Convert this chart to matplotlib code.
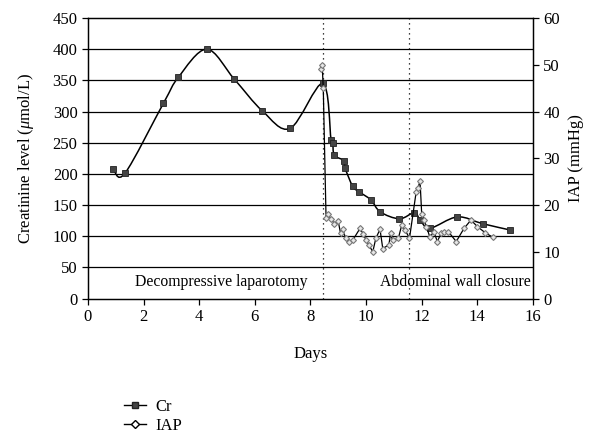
import numpy as np
import matplotlib.pyplot as plt
from matplotlib.path import Path
from matplotlib.patches import PathPatch
from matplotlib.lines import Line2D

plt.rcParams['font.family'] = ['Liberation Serif', 'DejaVu Serif']
plt.rcParams['mathtext.fontset'] = 'custom'
plt.rcParams['mathtext.rm'] = 'Liberation Serif'
plt.rcParams['mathtext.it'] = 'Liberation Serif:italic'

# Creatinine (umol/L) vs day
cr_days = [0.91, 1.33, 2.71, 3.25, 4.27, 5.26, 6.27, 7.27, 8.44, 8.74, 8.80, 8.86,
           9.22, 9.24, 9.52, 9.76, 10.18, 10.51, 11.20, 11.74, 11.94, 12.30,
           13.28, 14.20, 15.18]
cr_vals = [208, 201, 313, 355, 400, 352, 301, 273, 345, 255, 250, 230,
           221, 210, 180, 171, 158, 139, 128, 138, 126, 113,
           131, 120, 110]

# Intra-abdominal pressure (mmHg) vs day
iap_days = [8.38, 8.42, 8.46, 8.56, 8.64, 8.74, 8.86, 9.00, 9.08, 9.16, 9.26, 9.38,
            9.52, 9.78, 9.90, 10.00, 10.10, 10.24, 10.35, 10.50, 10.60, 10.82,
            10.88, 10.95, 11.16, 11.28, 11.40, 11.56, 11.80, 11.86, 11.94, 12.00,
            12.08, 12.17, 12.29, 12.44, 12.56, 12.70, 12.80, 12.96, 13.24, 13.52,
            13.77, 14.00, 14.28, 14.56]
iap_vals = [49, 50, 45, 17.2, 18, 17, 16, 16.5, 14, 14.8, 13, 12.2,
            12.5, 15, 13.8, 12.5, 11.5, 10, 12.9, 14.8, 10.7, 11.5,
            14, 12.5, 12.9, 15.7, 14.7, 12.9, 22.8, 23.6, 25.1, 18,
            16.8, 15.4, 13.2, 14.3, 12.2, 14, 14.3, 14.3, 12.2, 15,
            16.8, 15.4, 14.1, 13.1]

events = [8.45, 11.55]
event_labels = ["Decompressive laparotomy", "Abdominal wall closure"]


def smooth_path(xs, ys):
    # Excel-style smoothed line: cubic Bezier through the points
    pts = np.column_stack([xs, ys]).astype(float)
    n = len(pts)
    verts = [pts[0]]
    codes = [Path.MOVETO]
    for i in range(n - 1):
        p0 = pts[max(i - 1, 0)]
        p1 = pts[i]
        p2 = pts[i + 1]
        p3 = pts[min(i + 2, n - 1)]
        verts += [p1 + (p2 - p0) / 6, p2 - (p3 - p1) / 6, p2]
        codes += [Path.CURVE4] * 3
    return Path(verts, codes)


fig = plt.figure(figsize=(6.08, 4.33), dpi=100)
ax = fig.add_axes([0.1447, 0.3104, 0.7319, 0.648])
ax2 = ax.twinx()

ax.set_xlim(0, 16)
ax.set_ylim(0, 450)
ax2.set_ylim(0, 60)

for v in range(50, 450, 50):
    ax.axhline(v, color='black', lw=0.9, zorder=1)

for d in events:
    ax.axvline(d, color='black', lw=0.9, ls=(0, (1, 3)), zorder=1)

ax.add_patch(PathPatch(smooth_path(cr_days, cr_vals), fc='none', ec='black', lw=1.1, zorder=3))
ax.plot(cr_days, cr_vals, ls='none', marker='s', ms=4, mfc='#444444', mec='#222222',
        mew=0.6, zorder=4)

ax2.plot(iap_days, iap_vals, color='black', lw=0.9, marker='D', ms=3.0,
         mfc='#e6e6e6', mec='#777777', mew=0.8, zorder=3)

ax.text(1.69, 26, event_labels[0], fontsize=11.3, va='center', ha='left')
ax.text(10.5, 26, event_labels[1], fontsize=11.3, va='center', ha='left')

ax.set_xticks(range(0, 17, 2))
ax.set_yticks(range(0, 451, 50))
ax2.set_yticks(range(0, 61, 10))
for a in (ax, ax2):
    a.tick_params(labelsize=12, length=4, width=0.9, direction='out', color='black')
    for s in a.spines.values():
        s.set_linewidth(0.9)

ax.set_xlabel("Days", fontsize=12, labelpad=15)
ax.set_ylabel(r"Creatinine level ($\mathit{\mu}$mol/L)", fontsize=12, labelpad=12)
ax2.set_ylabel("IAP (mmHg)", fontsize=12, labelpad=6)

handles = [
    Line2D([], [], color='black', lw=1, marker='s', ms=5, mfc='#444444', mec='#222222'),
    Line2D([], [], color='black', lw=1, marker='D', ms=4.5, mfc='white', mec='black'),
]
fig.legend(handles, ["Cr", "IAP"], loc='upper left', bbox_to_anchor=(0.19, 0.097),
           bbox_transform=fig.transFigure, frameon=False, fontsize=12,
           handlelength=1.3, handletextpad=0.6, labelspacing=0.15, borderpad=0)

fig.savefig("out.png", dpi=100)
